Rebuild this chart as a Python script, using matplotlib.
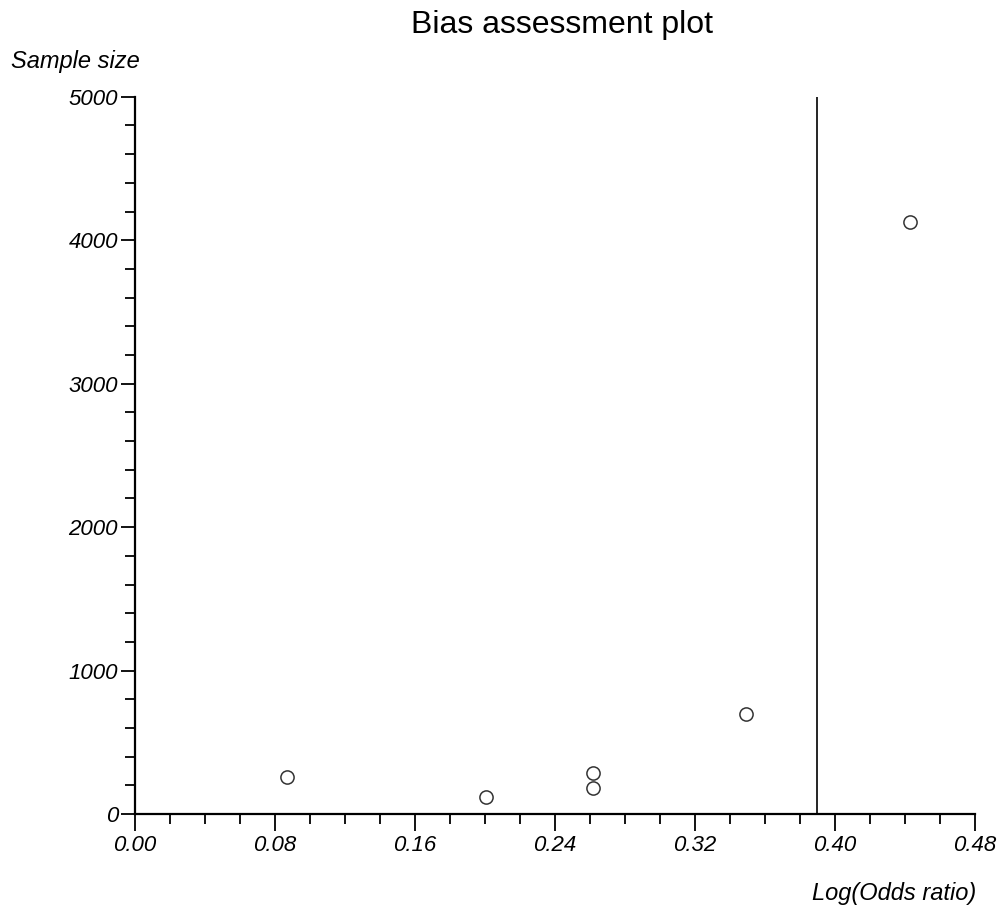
import numpy as np
import matplotlib.pyplot as plt
from matplotlib.ticker import MultipleLocator

plt.rcParams['font.family'] = ['Liberation Sans', 'DejaVu Sans']

# study estimates
log_or = [0.087, 0.201, 0.262, 0.262, 0.349, 0.443]
sample_size = [255, 120, 285, 178, 695, 4130]
pooled = 0.390

xticks = [0.00, 0.08, 0.16, 0.24, 0.32, 0.40, 0.48]
yticks = [0, 1000, 2000, 3000, 4000, 5000]

fig = plt.figure(figsize=(10.05, 9.09), dpi=100)
ax = fig.add_axes([0.134, 0.1045, 0.836, 0.789])

ax.plot(log_or, sample_size, 'o', fillstyle='none', color='#333333',
        markersize=9.5, markeredgewidth=1.1, clip_on=False)
ax.plot([pooled, pooled], [0, 5000], color='black', linewidth=1.2)

ax.set_xlim(0, 0.48)
ax.set_ylim(0, 5000)
ax.set_xticks(xticks)
ax.set_xticklabels(['%.2f' % t for t in xticks], fontsize=16, style='italic')
ax.set_yticks(yticks)
ax.set_yticklabels([str(t) for t in yticks], fontsize=16, style='italic')
ax.xaxis.set_minor_locator(MultipleLocator(0.02))
ax.yaxis.set_minor_locator(MultipleLocator(200))
ax.tick_params(which='major', length=12, width=1.3, pad=3)
ax.tick_params(which='minor', length=7, width=1.3)
ax.tick_params(axis='y', which='major', length=10, pad=2)

ax.spines['top'].set_visible(False)
ax.spines['right'].set_visible(False)
ax.spines['left'].set_linewidth(1.6)
ax.spines['bottom'].set_linewidth(1.6)

fig.text(0.559, 0.9725, 'Bias assessment plot', fontsize=23, ha='center', va='center')
fig.text(0.011, 0.932, 'Sample size', fontsize=17, style='italic', ha='left', va='center')
fig.text(0.971, 0.017, 'Log(Odds ratio)', fontsize=17, style='italic', ha='right', va='center')

fig.savefig('out.png', dpi=100)
